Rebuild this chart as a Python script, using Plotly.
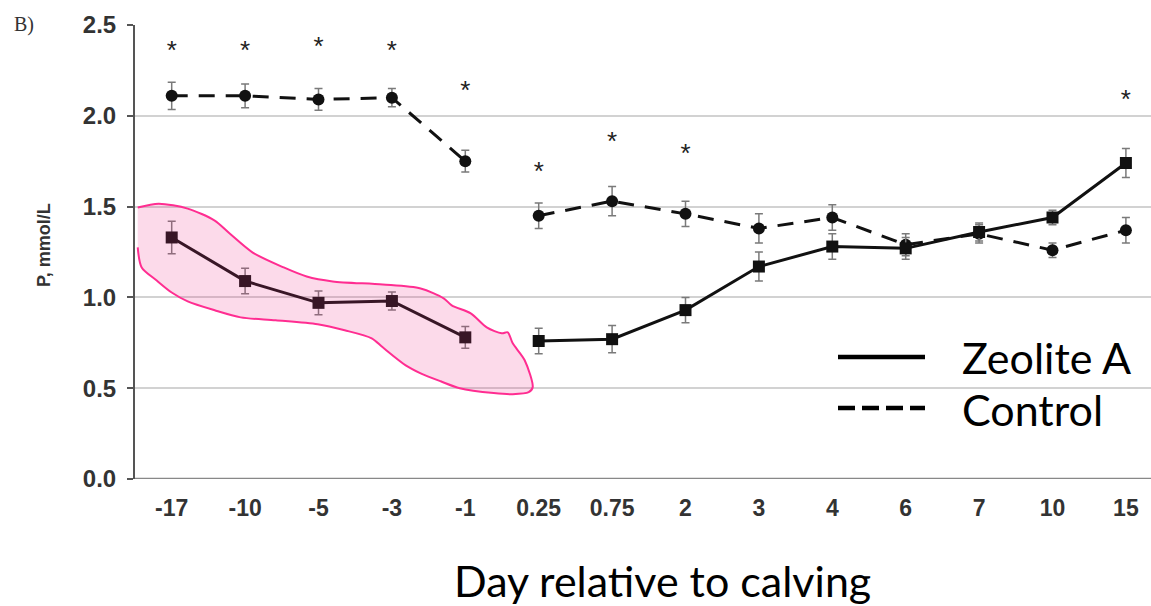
import plotly.graph_objects as go

days = ["-17", "-10", "-5", "-3", "-1", "0.25", "0.75", "2", "3", "4", "6", "7", "10", "15"]
zeolite = [1.33, 1.09, 0.97, 0.98, 0.78, 0.76, 0.77, 0.93, 1.17, 1.28, 1.27, 1.36, 1.44, 1.74]
zeolite_se = [0.09, 0.07, 0.065, 0.05, 0.06, 0.07, 0.075, 0.07, 0.08, 0.07, 0.06, 0.05, 0.04, 0.08]
control = [2.11, 2.11, 2.09, 2.10, 1.75, 1.45, 1.53, 1.46, 1.38, 1.44, 1.29, 1.35, 1.26, 1.37]
control_se = [0.075, 0.065, 0.06, 0.05, 0.06, 0.07, 0.08, 0.07, 0.08, 0.07, 0.06, 0.05, 0.04, 0.07]
# significance markers (*) : category and height
sig_days = ["-17", "-10", "-5", "-3", "-1", "0.25", "0.75", "2", "15"]
sig_y = [2.35, 2.35, 2.37, 2.35, 2.13, 1.68, 1.85, 1.78, 2.08]
# lines are broken at calving (between day -1 and day 0.25)
break_before = "0.25"

# hand-drawn highlight outline (category index, value)
hl_x = [-0.463, -0.177, 0.218, 0.586, 0.790, 1.104, 1.526, 1.839, 2.193, 2.875, 3.392, 3.706, 3.815,
        4.074, 4.292, 4.496, 4.578, 4.646, 4.809, 4.918, 4.864, 4.646, 4.387, 3.924, 3.665, 3.392,
        3.188, 2.875, 2.725, 2.357, 1.989, 1.417, 0.940, 0.586, 0.218, 0.000, -0.204, -0.409, -0.463]
hl_y = [1.495, 1.516, 1.489, 1.423, 1.352, 1.247, 1.165, 1.115, 1.088, 1.071, 1.049, 0.995, 0.956,
        0.912, 0.835, 0.802, 0.808, 0.747, 0.654, 0.505, 0.478, 0.467, 0.473, 0.500, 0.538, 0.582,
        0.626, 0.725, 0.775, 0.819, 0.852, 0.874, 0.890, 0.929, 0.978, 1.027, 1.093, 1.165, 1.275]

xi = list(range(len(days)))
sig_x = [days.index(d) for d in sig_days]
bi = days.index(break_before)


def with_break(vals, fill=None):
    return list(vals[:bi]) + [fill] + list(vals[bi:])


x_plot = with_break(xi, bi - 0.5)

fig = go.Figure()

err_style = dict(type="data", thickness=1.5, width=4, color="#7a7a7a")

fig.add_trace(go.Scatter(
    x=x_plot, y=with_break(control), mode="lines+markers", name="Control",
    line=dict(color="#111111", width=3, dash="16px,11px"),
    marker=dict(symbol="circle", size=12, color="#111111"),
    error_y=dict(array=with_break(control_se, 0), **err_style),
    connectgaps=False, showlegend=False,
))
fig.add_trace(go.Scatter(
    x=x_plot, y=with_break(zeolite), mode="lines+markers", name="Zeolite A",
    line=dict(color="#111111", width=3),
    marker=dict(symbol="square", size=12, color="#111111"),
    error_y=dict(array=with_break(zeolite_se, 0), **err_style),
    connectgaps=False, showlegend=False,
))
fig.add_trace(go.Scatter(
    x=sig_x, y=sig_y, mode="text", text=["*"] * len(sig_x),
    textfont=dict(family="Liberation Sans, Arial", size=26, color="#222222"),
    showlegend=False, hoverinfo="skip",
))
fig.add_trace(go.Scatter(
    x=hl_x, y=hl_y, mode="lines", fill="toself",
    line=dict(color="rgb(255,45,145)", width=2, shape="spline", smoothing=0.8),
    fillcolor="rgba(240,50,140,0.18)",
    showlegend=False, hoverinfo="skip",
))

W, H = 1151, 606
left, top, bottom = 135, 25, 127
PH = H - top - bottom
PW = W - left
x_right = -0.5 + PW / 73.4


def px(x):
    return (x - left) / PW


def py(y):
    return (H - bottom - y) / PH


fig.update_layout(
    width=W, height=H,
    margin=dict(l=left, r=0, t=top, b=bottom, autoexpand=False),
    paper_bgcolor="white", plot_bgcolor="white",
    showlegend=False,
    xaxis=dict(
        range=[-0.5, x_right], tickmode="array", tickvals=xi, ticktext=days,
        showgrid=False, zeroline=False, showline=False, ticks="", automargin=False,
        tickfont=dict(family="Liberation Sans, Arial", size=23, color="#333333", weight="bold"),
        ticklabelstandoff=13,
    ),
    yaxis=dict(
        range=[0, 2.5], tickmode="array", tickvals=[0, 0.5, 1.0, 1.5, 2.0, 2.5],
        ticktext=["0.0", "0.5", "1.0", "1.5", "2.0", "2.5"],
        showgrid=True, gridcolor="#d2d2d2", gridwidth=1.5, automargin=False,
        zeroline=False, showline=True, linecolor="#555555", linewidth=2,
        ticks="outside", ticklen=6, tickcolor="#555555", tickwidth=1.5,
        tickfont=dict(family="Liberation Sans, Arial", size=24, color="#333333", weight="bold"),
        ticklabelstandoff=6,
    ),
    shapes=[
        dict(type="line", xref="paper", yref="y", x0=0, x1=1, y0=0, y1=0,
             line=dict(color="#888888", width=2.5)),
        dict(type="line", xref="paper", yref="paper", x0=px(838), x1=px(925),
             y0=py(357), y1=py(357), line=dict(color="black", width=4.5)),
        dict(type="line", xref="paper", yref="paper", x0=px(838), x1=px(925),
             y0=py(408), y1=py(408), line=dict(color="black", width=4.5, dash="17px,7px")),
    ],
    annotations=[
        dict(text="Zeolite A", xref="paper", yref="paper", x=px(960), y=py(357),
             xanchor="left", yanchor="middle", showarrow=False,
             font=dict(family="Lato, Open Sans", size=43, color="black")),
        dict(text="Control", xref="paper", yref="paper", x=px(960), y=py(409),
             xanchor="left", yanchor="middle", showarrow=False,
             font=dict(family="Lato, Open Sans", size=43, color="black")),
        dict(text="Day relative to calving", xref="paper", yref="paper",
             x=px(662), y=py(580), xanchor="center", yanchor="middle", showarrow=False,
             font=dict(family="Lato, Open Sans", size=43, color="black")),
        dict(text="<b>P, mmol/L</b>", xref="paper", yref="paper", textangle=-90,
             x=px(44), y=py(245), xanchor="center", yanchor="middle", showarrow=False,
             font=dict(family="Liberation Sans, Arial", size=18, color="#333333")),
        dict(text="B)", xref="paper", yref="paper", x=px(12), y=py(24),
             xanchor="left", yanchor="middle", showarrow=False,
             font=dict(family="Liberation Serif, Times New Roman", size=20, color="#333333")),
    ],
)

fig.write_html("out.html", config={"displayModeBar": False},
               post_script="document.body.style.margin='0';document.body.style.overflow='hidden';")
